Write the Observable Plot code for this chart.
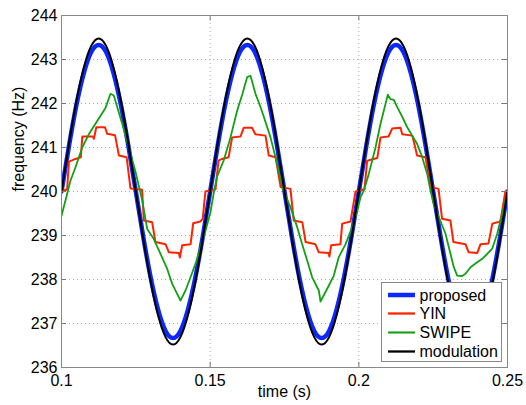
<!DOCTYPE html>
<html><head><meta charset="utf-8">
<script src="https://cdn.jsdelivr.net/npm/d3@7"></script>
<script src="https://cdn.jsdelivr.net/npm/@observablehq/plot@0.6"></script>
<style>body{margin:0;background:#fff;}</style>
</head><body><div id="chart"></div>
<script>
const sampleTimes = [0.1, 0.1025, 0.105, 0.1075, 0.11, 0.1125, 0.115, 0.1175, 0.12, 0.1225, 0.125, 0.1275, 0.13, 0.1325, 0.135, 0.1375, 0.14, 0.1425, 0.145, 0.1475,
  0.15, 0.1525, 0.155, 0.1575, 0.16, 0.1625, 0.165, 0.1675, 0.17, 0.1725, 0.175, 0.1775, 0.18, 0.1825, 0.185, 0.1875, 0.19, 0.1925, 0.195, 0.1975,
  0.2, 0.2025, 0.205, 0.2075, 0.21, 0.2125, 0.215, 0.2175, 0.22, 0.2225, 0.225, 0.2275, 0.23, 0.2325, 0.235, 0.2375, 0.24, 0.2425, 0.245, 0.2475, 0.25];

const modulation = [240.00, 241.08, 242.05, 242.82, 243.31, 243.48, 243.31, 242.82, 242.05, 241.08, 240.00, 238.92, 237.95, 237.18, 236.69, 236.52, 236.69, 237.18, 237.95, 238.92,
  240.00, 241.08, 242.05, 242.82, 243.31, 243.48, 243.31, 242.82, 242.05, 241.08, 240.00, 238.92, 237.95, 237.18, 236.69, 236.52, 236.69, 237.18, 237.95, 238.92,
  240.00, 241.08, 242.05, 242.82, 243.31, 243.48, 243.31, 242.82, 242.05, 241.08, 240.00, 238.92, 237.95, 237.18, 236.69, 236.52, 236.69, 237.18, 237.95, 238.92, 240.00];

const proposed = [240.00, 241.03, 241.96, 242.69, 243.17, 243.33, 243.17, 242.69, 241.96, 241.03, 240.00, 238.97, 238.04, 237.31, 236.83, 236.67, 236.83, 237.31, 238.04, 238.97,
  240.00, 241.03, 241.96, 242.69, 243.17, 243.33, 243.17, 242.69, 241.96, 241.03, 240.00, 238.97, 238.04, 237.31, 236.83, 236.67, 236.83, 237.31, 238.04, 238.97,
  240.00, 241.03, 241.96, 242.69, 243.17, 243.33, 243.17, 242.69, 241.96, 241.03, 240.00, 238.97, 238.04, 237.31, 236.83, 236.67, 236.83, 237.31, 238.04, 238.97, 240.00];

const yin = [
  [0.1000, 240.00], [0.1019, 240.05], [0.1025, 240.68], [0.1047, 240.74], [0.1065, 240.78], [0.1070, 241.25],
  [0.1105, 241.25], [0.1109, 241.20], [0.1117, 241.46], [0.1146, 241.46], [0.1154, 241.31], [0.1180, 241.28],
  [0.1193, 240.82], [0.1219, 240.78], [0.1232, 240.07], [0.1271, 240.04], [0.1277, 239.34], [0.1305, 239.30],
  [0.1316, 238.85], [0.1350, 238.80], [0.1361, 238.62], [0.1395, 238.60], [0.1398, 238.50], [0.1406, 238.78],
  [0.1434, 238.80], [0.1443, 239.28], [0.1467, 239.32], [0.1475, 239.38], [0.1484, 240.00], [0.1518, 240.05],
  [0.1528, 240.70], [0.1540, 240.74], [0.1562, 240.78], [0.1574, 241.23], [0.1602, 241.25], [0.1613, 241.45],
  [0.1641, 241.45], [0.1652, 241.30], [0.1686, 241.27], [0.1697, 240.82], [0.1720, 240.78], [0.1737, 240.10],
  [0.1770, 240.06], [0.1781, 239.34], [0.1810, 239.30], [0.1821, 238.85], [0.1854, 238.80], [0.1865, 238.62],
  [0.1898, 238.60], [0.1901, 238.52], [0.1907, 238.78], [0.1938, 238.80], [0.1944, 239.27], [0.1972, 239.32],
  [0.1989, 240.00], [0.2019, 240.05], [0.2028, 240.70], [0.2062, 240.76], [0.2073, 241.23], [0.2100, 241.25],
  [0.2112, 241.43], [0.2140, 241.45], [0.2146, 241.30], [0.2180, 241.27], [0.2196, 240.82], [0.2224, 240.78],
  [0.2241, 240.10], [0.2268, 240.06], [0.2280, 239.38], [0.2308, 239.34], [0.2318, 238.85], [0.2359, 238.80],
  [0.2369, 238.62], [0.2398, 238.60], [0.2409, 238.80], [0.2436, 238.82], [0.2449, 239.27], [0.2476, 239.32],
  [0.2493, 240.00], [0.2500, 240.02]
];

const swipe = [
  [0.1000, 239.45], [0.10135, 239.80], [0.10303, 240.25], [0.10471, 240.55], [0.10696, 241.00], [0.10918, 241.30],
  [0.11201, 241.60], [0.11480, 241.90], [0.11648, 242.22], [0.11759, 242.18], [0.12041, 241.54], [0.12263, 241.00],
  [0.12489, 240.45], [0.12714, 239.80], [0.12882, 239.15], [0.13104, 238.92], [0.13330, 238.58], [0.13555, 238.24],
  [0.13723, 237.90], [0.14002, 237.52], [0.14170, 237.75], [0.14339, 238.05], [0.14507, 238.36], [0.14675, 238.74],
  [0.14843, 239.11], [0.15011, 239.53], [0.15129, 240.00], [0.15236, 240.35], [0.15458, 240.71], [0.15684, 241.23],
  [0.15909, 241.84], [0.16077, 242.20], [0.16245, 242.60], [0.16356, 242.63], [0.16525, 242.22], [0.16693, 241.92],
  [0.16804, 241.70], [0.17029, 241.23], [0.17197, 240.78], [0.17450, 240.05], [0.17702, 239.64], [0.17927, 239.19],
  [0.18095, 238.80], [0.18263, 238.43], [0.18432, 238.05], [0.18654, 237.75], [0.18711, 237.50], [0.18936, 237.79],
  [0.19158, 238.09], [0.19326, 238.51], [0.19551, 238.80], [0.19777, 239.19], [0.19945, 239.55], [0.20056, 239.87],
  [0.20167, 240.02], [0.20335, 240.40], [0.20561, 241.00], [0.20729, 241.54], [0.20897, 241.99], [0.20974, 242.20],
  [0.21065, 242.10], [0.21176, 242.08], [0.21291, 241.92], [0.21458, 241.70], [0.21627, 241.46], [0.21795, 241.27],
  [0.21963, 241.08], [0.22131, 240.78], [0.22299, 240.40], [0.22410, 240.02], [0.22511, 239.72], [0.22689, 239.42],
  [0.22915, 239.04], [0.23083, 238.58], [0.23194, 238.28], [0.23308, 238.09], [0.23476, 238.08], [0.23587, 238.13],
  [0.23755, 238.28], [0.23981, 238.39], [0.24149, 238.47], [0.24317, 238.58], [0.24485, 238.70], [0.24654, 239.04],
  [0.24822, 239.50], [0.24933, 239.80], [0.2500, 239.95]
];

const xTicks = [0.1, 0.15, 0.2, 0.25];
const yTicks = [236, 237, 238, 239, 240, 241, 242, 243, 244];
const seriesNames = ["proposed", "YIN", "SWIPE", "modulation"];
const seriesColors = ["#0a28ff", "#ff2200", "#14a014", "#000000"];
const seriesWidths = [4.5, 2, 1.8, 2];

const propData = sampleTimes.map((t, i) => ({t, v: proposed[i]}));
const modData = sampleTimes.map((t, i) => ({t, v: modulation[i]}));
const font = "'Liberation Sans', Arial, Helvetica, sans-serif";

const plot = Plot.plot({
  width: 526, height: 405,
  marginLeft: 61, marginRight: 19, marginTop: 15, marginBottom: 38,
  x: {domain: [0.1, 0.25]},
  y: {domain: [236, 244]},
  style: {fontFamily: font, fontSize: "16px", color: "#000", background: "#fff"},
  marks: [
    Plot.gridX(xTicks, {stroke: "#aaa", strokeOpacity: 1, strokeDasharray: "1,3"}),
    Plot.gridY(yTicks, {stroke: "#aaa", strokeOpacity: 1, strokeDasharray: "1,3"}),
    Plot.line(propData, {x: "t", y: "v", stroke: seriesColors[0], strokeWidth: seriesWidths[0], curve: "natural", clip: true}),
    Plot.line(yin, {x: d => d[0], y: d => d[1], stroke: seriesColors[1], strokeWidth: seriesWidths[1], clip: true}),
    Plot.line(swipe, {x: d => d[0], y: d => d[1], stroke: seriesColors[2], strokeWidth: seriesWidths[2], clip: true}),
    Plot.line(modData, {x: "t", y: "v", stroke: seriesColors[3], strokeWidth: seriesWidths[3], curve: "natural", clip: true}),
    Plot.ruleX(xTicks, {y1: 236, y2: 236.12, stroke: "#777"}),
    Plot.ruleX(xTicks, {y1: 243.88, y2: 244, stroke: "#777"}),
    Plot.ruleY(yTicks, {x1: 0.1, x2: 0.1017, stroke: "#777"}),
    Plot.ruleY(yTicks, {x1: 0.2483, x2: 0.25, stroke: "#777"}),
    Plot.frame({stroke: "#888"}),
    Plot.axisX(xTicks, {tickSize: 0, tickPadding: 7, tickFormat: d => String(d), label: null}),
    Plot.axisY(yTicks, {tickSize: 0, tickPadding: 4, tickFormat: d => String(d), label: null}),
    Plot.text(["frequency (Hz)"], {text: d => d, frameAnchor: "left", dx: -43, rotate: -90}),
    Plot.text(["time (s)"], {text: d => d, frameAnchor: "bottom", dy: 29})
  ]
});

// legend box drawn over the data, like the original
const svg = d3.select(plot);
const lg = svg.append("g").attr("font-family", font).attr("font-size", 16).attr("text-anchor", "start");
lg.append("rect").attr("x", 381.5).attr("y", 282.5).attr("width", 120).attr("height", 79)
  .attr("fill", "#fff").attr("stroke", "#888");
const rowY = [295, 313.5, 332.5, 351.5];
seriesNames.forEach((name, i) => {
  lg.append("line").attr("x1", 388).attr("x2", 415).attr("y1", rowY[i]).attr("y2", rowY[i])
    .attr("stroke", seriesColors[i]).attr("stroke-width", seriesWidths[i] + (i === 0 ? 0 : 0.3));
  lg.append("text").attr("x", 419.5).attr("y", rowY[i]).attr("dy", "0.35em").attr("fill", "#000")
    .attr("text-anchor", "start").text(name);
});

document.getElementById("chart").appendChild(plot);
</script>
</body></html>
